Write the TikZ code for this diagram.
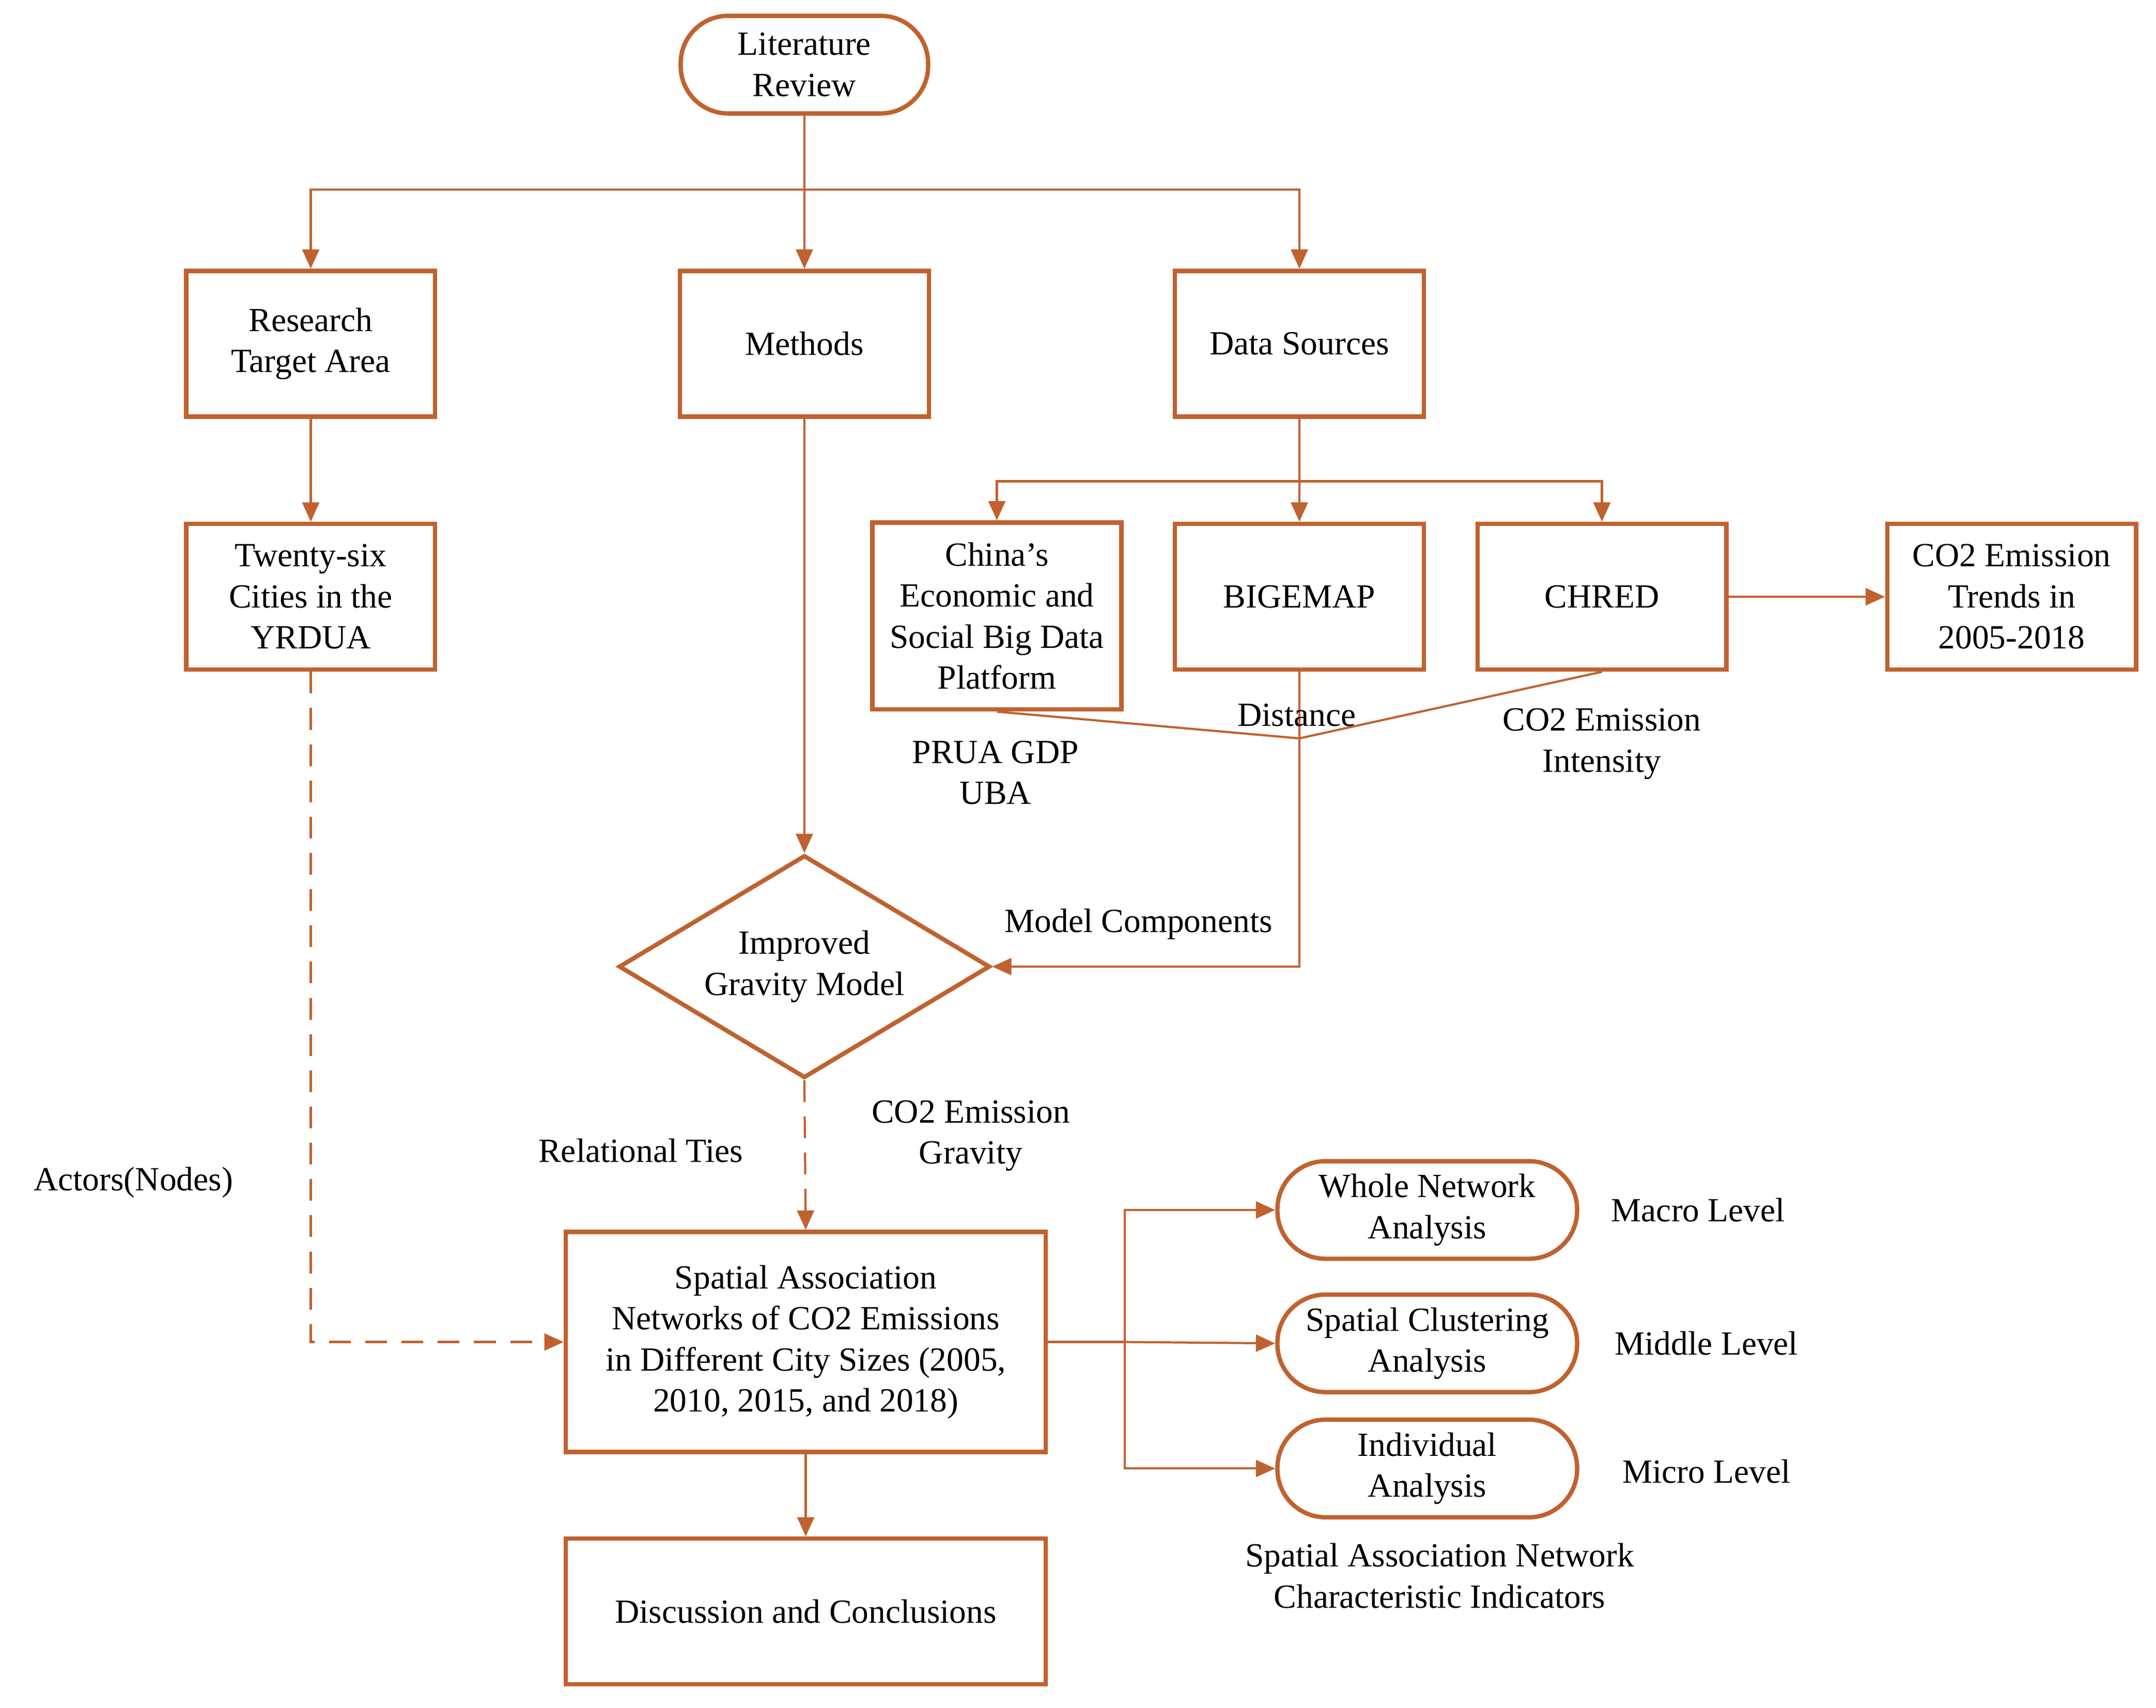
\documentclass[tikz,border=0pt]{standalone}
\usepackage{fontspec}
\setmainfont{Liberation Serif}
\usetikzlibrary{shapes.geometric,arrows.meta}
\definecolor{br}{HTML}{C0622F}
\begin{document}
\begin{tikzpicture}[x=0.02cm,y=-0.02cm,
 font=\fontsize{14}{17}\selectfont,
 box/.style={draw=br,line width=1.8pt,align=center,minimum width=3.62cm,minimum height=2.12cm,inner sep=2pt},
 pill/.style={draw=br,line width=1.8pt,align=center,rounded corners=0.7cm,minimum width=4.36cm,minimum height=1.42cm,inner sep=1pt},
 ar/.style={draw=br,line width=0.9pt,-{Triangle[length=8pt,width=7pt]}},
 ln/.style={draw=br,line width=0.9pt},
 lab/.style={align=center}]
\useasboundingbox (0,0) rectangle (1568,1242);
\node[pill,minimum width=3.6cm,rounded corners=0.69cm] (lit) at (585,47) {Literature\\Review};
\node[box] (rta) at (226,250) {Research\\Target Area};
\node[box] (met) at (585,250) {Methods};
\node[box] (ds) at (945,250) {Data Sources};
\node[box] (tw) at (226,434) {Twenty-six\\Cities in the\\YRDUA};
\node[box,minimum height=2.72cm] (ch) at (725,448) {China's\\Economic and\\Social Big Data\\Platform};
\node[box] (bg) at (945,434) {BIGEMAP};
\node[box] (cr) at (1165,434) {CHRED};
\node[box] (tr) at (1463,434) {CO2 Emission\\Trends in\\2005-2018};
\node[diamond,draw=br,line width=1.8pt,minimum width=5.4cm,minimum height=3.24cm,inner sep=0pt,aspect=1.67,align=center] (gm) at (585,703) {Improved\\Gravity Model};
\node[box,minimum width=6.98cm,minimum height=3.2cm] (sa) at (586,976) {Spatial Association\\Networks of CO2 Emissions\\in Different City Sizes (2005,\\2010, 2015, and 2018)};
\node[box,minimum width=6.98cm] (dc) at (586,1172) {Discussion and Conclusions};
\node[pill] (wn) at (1038,880) {Whole Network\\Analysis};
\node[pill] (sc) at (1038,977) {Spatial Clustering\\Analysis};
\node[pill] (ia) at (1038,1068) {Individual\\Analysis};
\coordinate (b1) at (585,138);
\draw[ln] (lit) -- (b1);
\draw[ar] (b1) -| (rta);
\draw[ar] (b1) -- (met);
\draw[ar] (b1) -| (ds);
\draw[ar] (rta) -- (tw);
\coordinate (b2) at (945,350);
\draw[ln] (ds) -- (b2);
\draw[ar] (b2) -| (ch);
\draw[ar] (b2) -- (bg);
\draw[ar] (b2) -| (cr);
\draw[ar] (cr) -- (tr);
\draw[ar] (met) -- (gm.north);
\coordinate (v) at (945,537);
\draw[ln] (ch.south) -- (v) -- (cr.south);
\draw[ar] (bg.south) -- (945,703) -- (gm.east);
\draw[ar,dashed,dash pattern=on 9pt off 6pt] (gm.south) -- (sa.north);
\draw[ar,dashed,dash pattern=on 9pt off 6pt] (tw.south) |- (sa.west);
\draw[ar] (sa) -- (dc);
\coordinate (sp) at (818,976);
\draw[ln] (sa.east) -- (sp);
\draw[ar] (sp) |- (wn.west);
\draw[ar] (sp) -- (sc.west);
\draw[ar] (sp) |- (ia.west);
\node[lab] (l1) at (943,520) {Distance};
\node[lab] (l2) at (724,562) {PRUA GDP\\UBA};
\node[lab] (l3) at (1165,541) {CO2 Emission\\Intensity};
\node[lab] (l4) at (828,672) {Model Components};
\node[lab] (l5) at (466,837) {Relational Ties};
\node[lab] (l6) at (706,826) {CO2 Emission\\Gravity};
\node[lab] (l7) at (97,860) {Actors(Nodes)};
\node[lab] (l8) at (1235,880) {Macro Level};
\node[lab] (l9) at (1241,977) {Middle Level};
\node[lab] (l10) at (1241,1070) {Micro Level};
\node[lab] (l11) at (1047,1146) {Spatial Association Network\\Characteristic Indicators};
\end{tikzpicture}
\end{document}
